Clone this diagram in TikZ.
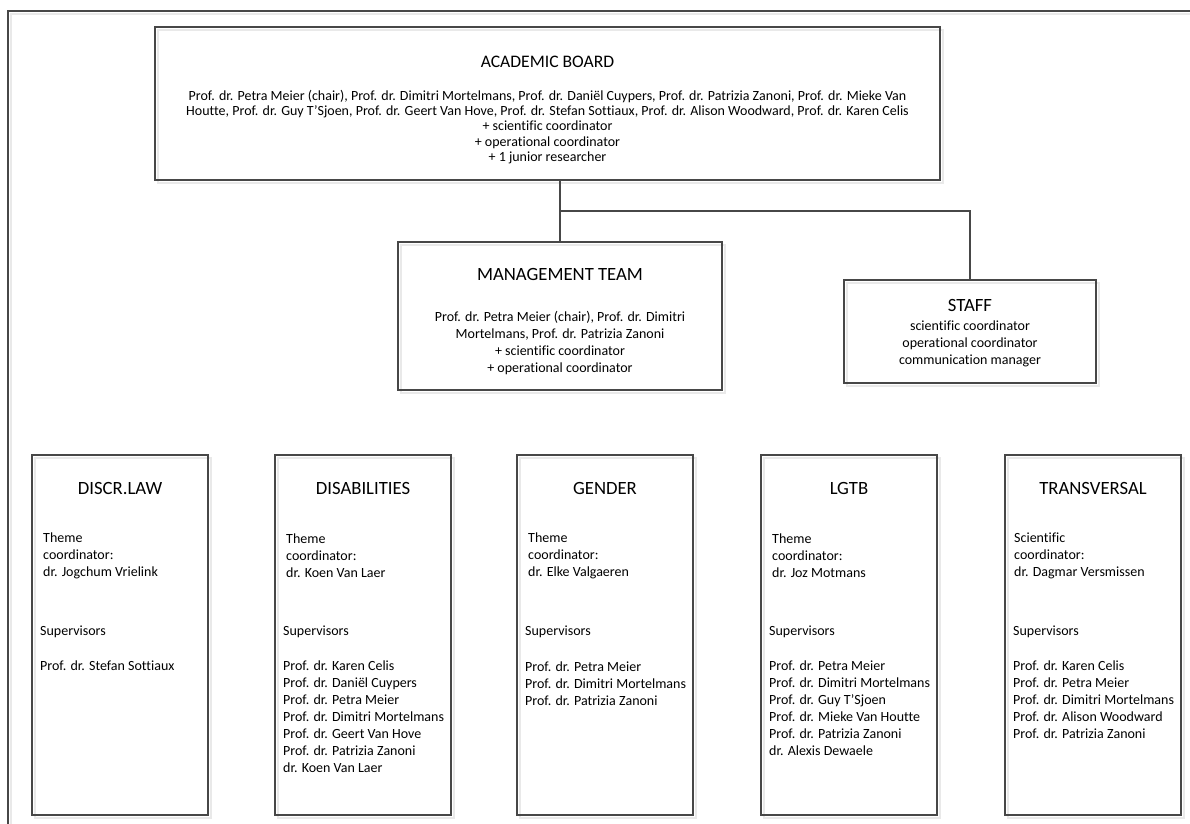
\documentclass[tikz,border=0pt]{standalone}
\usepackage{fontspec}
\setmainfont{Carlito}[Ligatures=CommonOff]
\usetikzlibrary{positioning,shadows}
\definecolor{frame}{HTML}{474747}
\definecolor{ghost}{HTML}{E9E9E9}
\tikzset{
  unit/.style={draw=frame, line width=1.1pt, inner sep=0pt,
    general shadow={draw=ghost, line width=1.3pt, shadow xshift=3pt, shadow yshift=-3pt}},
  column/.style={unit, minimum width=176pt, minimum height=360pt},
  head/.style={inner sep=0pt, font=\fontsize{18.7}{22}\selectfont},
  smallhead/.style={inner sep=0pt, font=\fontsize{17.6}{21}\selectfont},
  boardtext/.style={inner sep=0pt, align=center, font=\fontsize{14}{15.1}\selectfont},
  body/.style={inner sep=0pt, align=center, font=\fontsize{14}{17}\selectfont},
  list/.style={inner sep=0pt, anchor=west, align=left, font=\fontsize{14}{17}\selectfont},
  link/.style={draw=frame, line width=1.1pt}
}
\begin{document}
\begin{tikzpicture}[x=1pt,y=-1pt]
\useasboundingbox (0,0) rectangle (1190,823);
% outer frame, cut by the page
\draw[link, general shadow={draw=ghost, line width=1.3pt, shadow xshift=3pt, shadow yshift=-3pt}] (8,830) -- (8,11) -- (1200,11);

% board
\node[unit, minimum width=785pt, minimum height=153pt] (board) at (547.5,103.5) {};
\node[smallhead] (boardhead) at (547.5,62) {ACADEMIC BOARD};
\node[boardtext] (boardmembers) at (547.5,127) {Prof. dr. Petra Meier (chair), Prof. dr. Dimitri Mortelmans, Prof. dr. Daniël Cuypers, Prof. dr. Patrizia Zanoni, Prof. dr. Mieke Van\\
Houtte, Prof. dr. Guy T’Sjoen, Prof. dr. Geert Van Hove, Prof. dr. Stefan Sottiaux, Prof. dr. Alison Woodward, Prof. dr. Karen Celis\\
+ scientific coordinator\\
+ operational coordinator\\
+ 1 junior researcher};

% management team and staff
\node[unit, minimum width=324pt, minimum height=148pt] (mgmt) at (560,316) {};
\node[head] (mgmthead) at (560,274) {MANAGEMENT TEAM};
\node[body] (mgmtmembers) at (560,342.5) {Prof. dr. Petra Meier (chair), Prof. dr. Dimitri\\
Mortelmans, Prof. dr. Patrizia Zanoni\\
+ scientific coordinator\\
+ operational coordinator};

\node[unit, minimum width=252pt, minimum height=103pt] (staff) at (970,331.5) {};
\node[head] (staffhead) at (970,305) {STAFF};
\node[body] (staffmembers) at (970,344) {scientific coordinator\\
operational coordinator\\
communication manager};

\coordinate (fork) at (560,211);
\draw[link] (board.south -| mgmt.north) -- (mgmt.north);
\draw[link] (fork) -| (staff.north);

% themes
\node[column] (law) at (120,635) {};
\node[head] (lawhead) at (120,488) {DISCR.LAW};
\node[list] (lawcoord) at (43,556) {Theme\\coordinator:\\dr. Jogchum Vrielink};
\node[list] (lawsup) at (40,632) {Supervisors};
\node[list] (lawnames) at (40,666) {Prof. dr. Stefan Sottiaux};

\node[column] (dis) at (363,635) {};
\node[head] (dishead) at (363,488) {DISABILITIES};
\node[list] (discoord) at (286,556) {Theme\\coordinator:\\dr. Koen Van Laer};
\node[list] (dissup) at (283,632) {Supervisors};
\node[list] (disnames) at (283,717) {Prof. dr. Karen Celis\\
Prof. dr. Daniël Cuypers\\
Prof. dr. Petra Meier\\
Prof. dr. Dimitri Mortelmans\\
Prof. dr. Geert Van Hove\\
Prof. dr. Patrizia Zanoni\\
dr. Koen Van Laer};

\node[column] (gen) at (605,635) {};
\node[head] (genhead) at (605,488) {GENDER};
\node[list] (gencoord) at (528,556) {Theme\\coordinator:\\dr. Elke Valgaeren};
\node[list] (gensup) at (525,632) {Supervisors};
\node[list] (gennames) at (525,684) {Prof. dr. Petra Meier\\
Prof. dr. Dimitri Mortelmans\\
Prof. dr. Patrizia Zanoni};

\node[column] (lgtb) at (849,635) {};
\node[head] (lgtbhead) at (849,488) {LGTB};
\node[list] (lgtbcoord) at (772,556) {Theme\\coordinator:\\dr. Joz Motmans};
\node[list] (lgtbsup) at (769,632) {Supervisors};
\node[list] (lgtbnames) at (769,708.5) {Prof. dr. Petra Meier\\
Prof. dr. Dimitri Mortelmans\\
Prof. dr. Guy T’Sjoen\\
Prof. dr. Mieke Van Houtte\\
Prof. dr. Patrizia Zanoni\\
dr. Alexis Dewaele};

\node[column] (trans) at (1093,635) {};
\node[head] (transhead) at (1093,488) {TRANSVERSAL};
\node[list] (transcoord) at (1014,556) {Scientific\\coordinator:\\dr. Dagmar Versmissen};
\node[list] (transsup) at (1013,632) {Supervisors};
\node[list] (transnames) at (1013,700) {Prof. dr. Karen Celis\\
Prof. dr. Petra Meier\\
Prof. dr. Dimitri Mortelmans\\
Prof. dr. Alison Woodward\\
Prof. dr. Patrizia Zanoni};
\end{tikzpicture}
\end{document}
